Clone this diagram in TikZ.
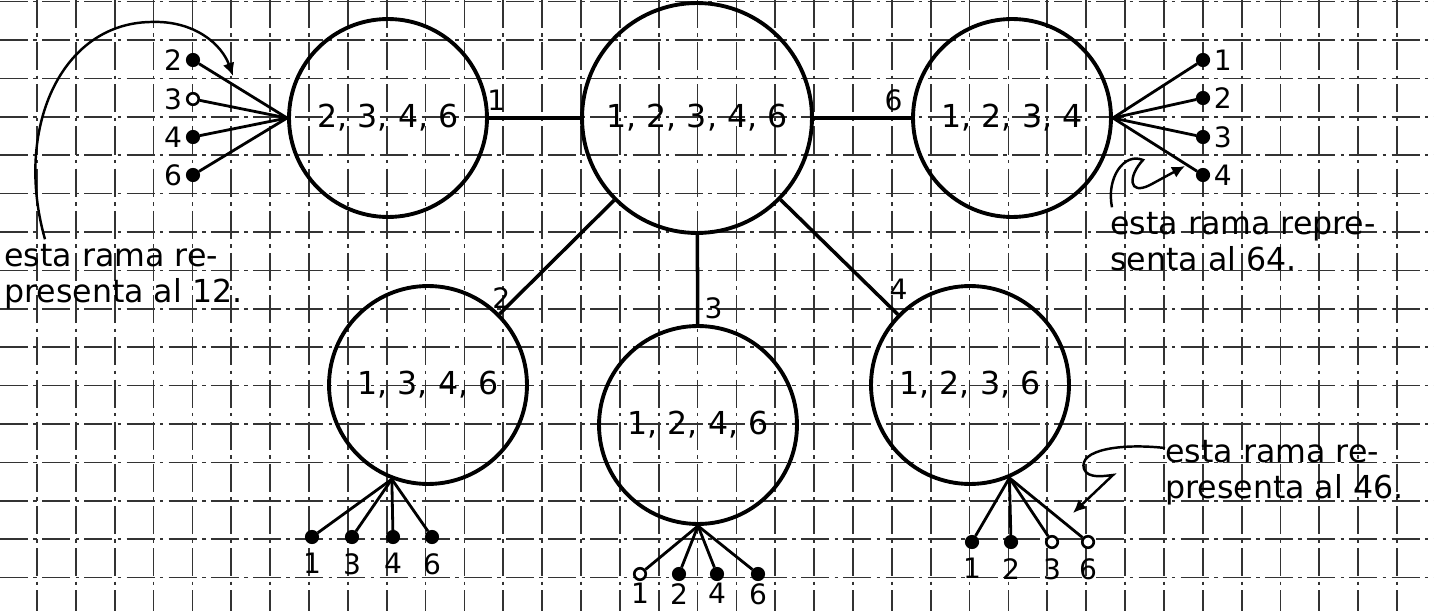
\documentclass[tikz,border=0pt]{standalone}
\usepackage{fontspec}
\setmainfont{DejaVu Sans}
\usetikzlibrary{arrows.meta,positioning}

\tikzset{
  gridline/.style={black!80, line width=1pt, dash pattern=on 16pt off 3pt on 2pt off 3pt},
  setnode/.style={circle, draw, line width=2.2pt, minimum size=3.96cm, inner sep=0pt, font=\fontsize{18}{20}\selectfont},
  bignode/.style={setnode, minimum size=4.6cm},
  link/.style={line width=2pt},
  twig/.style={line width=1.6pt},
  leafdot/.style={circle, draw, line width=1.5pt, inner sep=0pt, minimum size=0.23cm},
  note/.style={align=left, inner sep=0pt, font=\fontsize{18}{20.5}\selectfont},
  pointer/.style={line width=1.4pt, -{Latex[length=2.6mm, width=2.4mm]}},
}

\begin{document}
\begin{tikzpicture}[x=0.02cm, y=-0.02cm, font=\fontsize{16}{18}\selectfont]
    \useasboundingbox (0,0) rectangle (1434,611);
    \fill[white] (0,0) rectangle (1434,611);
    % squared paper
    \foreach \i in {0,...,37}
      \draw[gridline] ({-1.9+38.86*\i},0) -- ({-1.9+38.86*\i},611);
    \foreach \j in {0,...,16}
      \draw[gridline] (0,{1.6+38.4*\j}) -- (1434,{1.6+38.4*\j});

    % sets
    \node[bignode] (s12346) at (697,118) {1, 2, 3, 4, 6};
    \node[setnode] (s2346) at (388,118) {2, 3, 4, 6};
    \node[setnode] (s1234) at (1012,118) {1, 2, 3, 4};
    \node[setnode] (s1346) at (428,385) {1, 3, 4, 6};
    \node[setnode] (s1246) at (698,425) {1, 2, 4, 6};
    \node[setnode] (s1236) at (970,385) {1, 2, 3, 6};

    \draw[link] (s12346) -- node[pos=0.92, above, inner sep=3pt] (e1) {1} (s2346);
    \draw[link] (s12346) -- node[pos=0.82, above, inner sep=3pt] (e6) {6} (s1234);
    \draw[link] (s12346) -- node[pos=0.86, left, inner sep=2pt] (e2) {2} (s1346);
    \draw[link] (s12346) -- node[pos=0.82, right, inner sep=3pt] (e3) {3} (s1246);
    \draw[link] (s12346) -- node[pos=0.9, above right, inner sep=1pt] (e4) {4} (s1236);

    % branches
    \foreach \k/\y/\f in {2/60/black, 3/99/white, 4/137/black, 6/175/black} {
      \node[leafdot, fill=\f, label={[name=a\k t, inner sep=2pt]left:\k}] (a\k) at (193,\y) {};
      \draw[twig] (s2346.west) -- (a\k);
    }
    \foreach \k/\y/\f in {1/60/black, 2/98/black, 3/137/black, 4/175/black} {
      \node[leafdot, fill=\f, label={[name=b\k t, inner sep=2pt]right:\k}] (b\k) at (1203,\y) {};
      \draw[twig] (s1234.east) -- (b\k);
    }
    \foreach \k/\x/\f in {1/312/black, 3/352/black, 4/393/black, 6/432/black} {
      \node[leafdot, fill=\f, label={[name=c\k t, inner sep=2pt, label distance=3pt]below:\k}] (c\k) at (\x,537) {};
      \draw[twig] (s1346.-111) -- (c\k);
    }
    \foreach \k/\x/\f in {1/640/white, 2/679/black, 4/717/black, 6/758/black} {
      \node[leafdot, fill=\f, label={[name=d\k t, inner sep=0pt, label distance=1pt]below:\k}] (d\k) at (\x,574) {};
      \draw[twig] (s1246.south) -- (d\k);
    }
    \foreach \k/\x/\f in {1/972/black, 2/1011/black, 3/1052/white, 6/1088/white} {
      \node[leafdot, fill=\f, label={[name=f\k t, inner sep=2pt, label distance=3pt]below:\k}] (f\k) at (\x,542) {};
      \draw[twig] (s1236.-67) -- (f\k);
    }

    % notes
    \node[note, anchor=west] (n12) at (4,277) {esta rama re-\\presenta al 12.};
    \node[note, anchor=west] (n64) at (1110,242) {esta rama repre-\\senta al 64.};
    \node[note, anchor=west] (n46) at (1165,473) {esta rama re-\\presenta al 46.};

    \coordinate (p12) at (233,76);
    \coordinate (p64) at (1185,166);
    \coordinate (p46) at (1073,513);
    \draw[pointer] ([xshift=0.82cm, yshift=0.1cm]n12.north west) .. controls (14,130) and (60,24) .. (150,22)
      .. controls (195,20) and (222,45) .. (p12);
    \draw[pointer] ([xshift=0.04cm, yshift=0.1cm]n64.north west) .. controls (1106,178) and (1124,152) .. (1143,160)
      .. controls (1128,176) and (1128,196) .. (1150,185) -- (p64);
    \draw[pointer] ([yshift=0.5cm]n46.west) .. controls (1120,443) and (1078,450) .. (1084,469)
      .. controls (1088,479) and (1104,476) .. (1113,475) -- (p46);
\end{tikzpicture}
\end{document}
